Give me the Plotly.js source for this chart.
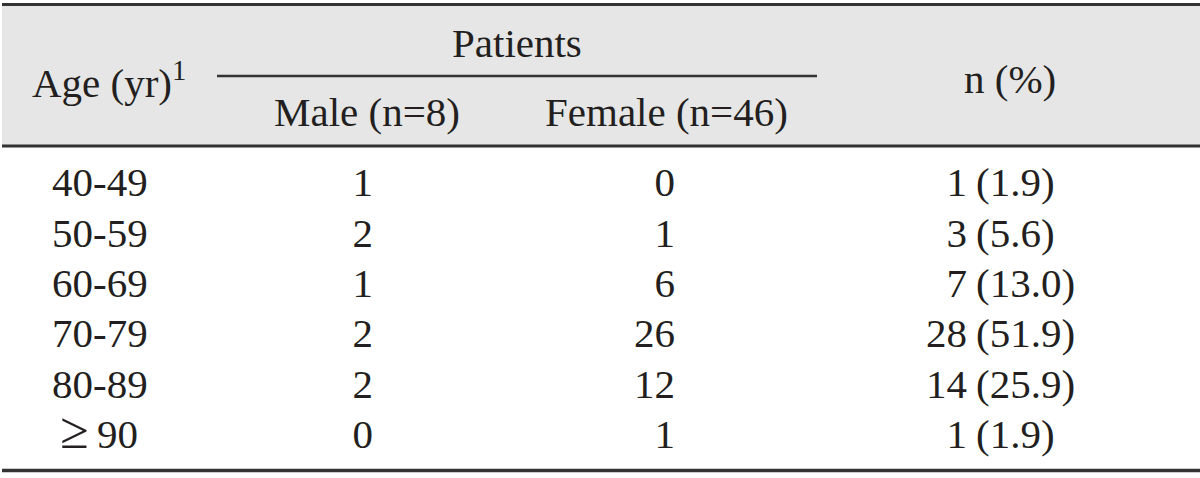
<!DOCTYPE html>
<html>
<head>
<meta charset="utf-8">
<script src="https://cdn.plot.ly/plotly-3.0.1.min.js"></script>
<style>
  html, body { margin: 0; padding: 0; background: #fff; }
  #table { width: 1200px; height: 478px; }
</style>
</head>
<body>
<div id="table"></div>
<script>
// ---- table values ----
const ageGroups = ['40-49', '50-59', '60-69', '70-79', '80-89', '≥90'];
const male      = [1, 2, 1, 2, 2, 0];
const female    = [0, 1, 6, 26, 12, 1];
const total     = [1, 3, 7, 28, 14, 1];
const percent   = ['1.9', '5.6', '13.0', '51.9', '25.9', '1.9'];

const headAge     = 'Age (yr)<sup>1</sup>';
const headGroup   = 'Patients';
const headMale    = 'Male (n=8)';
const headFemale  = 'Female (n=46)';
const headTotal   = 'n (%)';

// ---- look ----
const W = 1200, H = 478;
const INK = '#231f20', RULE = '#333333', SHADE = '#e6e6e6';
const FONT = { family: 'Liberation Serif, Times New Roman, serif', size: 41, color: INK };

// column anchors (px on the x axis)
const X_AGE = 52, X_MALE = 373, X_FEMALE = 675, X_N = 967, X_PCT = 976;
// body rows: centres ~186 … 438 px, 50.4 px apart
const ROW_TOP = 160.8, ROW_BOT = 463.2;

// the ≥ sign is set larger in the original
const ageLabel = (s) => s.startsWith('≥')
  ? '\u2009<span style="font-size:52px">≥</span>\u2009' + s.slice(1) : s;

function textCol(x, vals, pos) {
  return {
    type: 'scatter', mode: 'text', xaxis: 'x', yaxis: 'y2',
    x: ageGroups.map(() => x), y: ageGroups, text: vals.map(String),
    textposition: pos, textfont: FONT, hoverinfo: 'skip', showlegend: false,
  };
}

const traces = [
  textCol(X_AGE, ageGroups.map(ageLabel), 'middle right'),
  textCol(X_MALE, male, 'middle left'),
  textCol(X_FEMALE, female, 'middle left'),
  textCol(X_N, total, 'middle left'),
  textCol(X_PCT, percent.map((p) => '(' + p + ')'), 'middle right'),
];

const hl = (y, x0, x1, w) => ({ type: 'line', xref: 'x', yref: 'y', x0, x1, y0: y, y1: y,
  line: { color: RULE, width: w }, layer: 'above' });

const ann = (text, x, y, xanchor) => ({ text, x, y, xref: 'x', yref: 'y', xanchor, yanchor: 'middle',
  showarrow: false, font: FONT });

const layout = {
  width: W, height: H,
  margin: { l: 0, r: 0, t: 0, b: 0 },
  paper_bgcolor: '#ffffff', plot_bgcolor: '#ffffff',
  xaxis: { range: [0, W], visible: false, fixedrange: true },
  yaxis: { range: [H, 0], visible: false, fixedrange: true, domain: [0, 1] },
  yaxis2: { type: 'category', categoryarray: ageGroups, categoryorder: 'array',
    range: [ageGroups.length - 0.5, -0.5], visible: false, fixedrange: true,
    domain: [1 - ROW_BOT / H, 1 - ROW_TOP / H], anchor: 'x' },
  shapes: [
    { type: 'rect', xref: 'x', yref: 'y', x0: 2, x1: W, y0: 4.5, y1: 146,
      fillcolor: SHADE, line: { width: 0 }, layer: 'below' },
    hl(4.5, 2, W, 3),
    hl(76, 217, 817, 2.5),
    hl(146, 2, W, 3),
    hl(470.5, 2, W, 3.5),
  ],
  annotations: [
    ann(headAge, 30, 80, 'left'),
    ann(headGroup, 517, 43, 'center'),
    ann(headMale, 367, 112, 'center'),
    ann(headFemale, 666, 112, 'center'),
    ann(headTotal, 1010, 79, 'center'),
  ],
  showlegend: false,
};

Plotly.newPlot('table', traces, layout, { staticPlot: true, displayModeBar: false });
</script>
</body>
</html>
